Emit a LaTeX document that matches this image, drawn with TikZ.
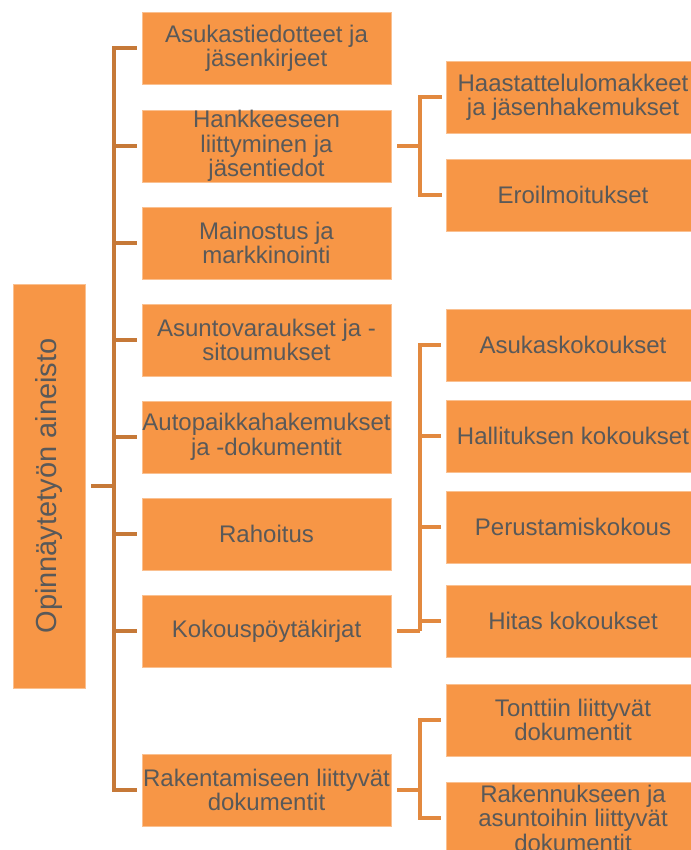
\documentclass[tikz,border=0pt]{standalone}
\usepackage{fontspec}
\setmainfont{Liberation Sans}
\usetikzlibrary{positioning}
\definecolor{cnaranja}{HTML}{F79646}
\definecolor{ctexto}{HTML}{595959}
\definecolor{crama}{HTML}{C67938}
\definecolor{cramab}{HTML}{E2893F}
\tikzset{
  caja/.style={fill=cnaranja,draw=cnaranja!60!white,line width=0.7pt,align=center,
               text=ctexto,inner sep=0pt,font=\fontsize{24}{24.5}\selectfont},
  caja2/.style={caja,minimum width=249pt,minimum height=72pt},
  caja3/.style={caja,minimum width=254pt,minimum height=72pt},
  raiz/.style={caja,minimum width=72pt,minimum height=404pt,font=\fontsize{29}{30}\selectfont},
  rama/.style={draw=crama,line width=4pt},
  ramab/.style={draw=cramab,line width=4pt},
}
\begin{document}
\begin{tikzpicture}[x=1pt,y=-1pt]
\useasboundingbox (0,0) rectangle (690,850);

% ---------------- raiz ----------------
\node[raiz] (r) at (49,486) {\rotatebox{90}{Opinnäytetyön aineisto}};

% ---------------- segundo nivel ----------------
\node[caja2] (b1) at (266.5,48.5) {Asukastiedotteet ja\\jäsenkirjeet};
\node[caja2] (b2) at (266.5,146)  {Hankkeeseen\\liittyminen ja\\jäsentiedot};
\node[caja2] (b3) at (266.5,243)  {Mainostus ja\\markkinointi};
\node[caja2] (b4) at (266.5,340)  {Asuntovaraukset ja -\\sitoumukset};
\node[caja2] (b5) at (266.5,437)  {Autopaikkahakemukset\\ja -dokumentit};
\node[caja2] (b6) at (266.5,534)  {Rahoitus};
\node[caja2] (b7) at (266.5,631)  {Kokouspöytäkirjat};
\node[caja2] (b8) at (266.5,790)  {Rakentamiseen liittyvät\\dokumentit};

% ---------------- tercer nivel ----------------
\node[caja3] (c1) at (573,97.5) {Haastattelulomakkeet\\ja jäsenhakemukset};
\node[caja3] (c2) at (573,195)  {Eroilmoitukset};
\node[caja3] (c3) at (573,345)  {Asukaskokoukset};
\node[caja3] (c4) at (573,436)  {Hallituksen kokoukset};
\node[caja3] (c5) at (573,527)  {Perustamiskokous};
\node[caja3] (c6) at (573,621)  {Hitas kokoukset};
\node[caja3] (c7) at (573,720)  {Tonttiin liittyvät\\dokumentit};
\node[caja3] (c8) at (573,818)  {Rakennukseen ja\\asuntoihin liittyvät\\dokumentit};

% ---------------- ramas ----------------
\coordinate (t0) at (114,486);
\draw[rama] ([xshift=6pt]r.east) -- (t0);
\foreach \n in {b1,b2,b3,b4,b5,b6,b7,b8}
  \draw[rama] (t0) |- ([xshift=-5pt]\n.west);

\coordinate (t2) at (420,146);
\draw[ramab] ([xshift=6pt]b2.east) -- (t2);
\foreach \n in {c1,c2}
  \draw[ramab] (t2) |- ([xshift=-4pt]\n.west);

\coordinate (t7) at (420,631);
\draw[ramab] ([xshift=6pt]b7.east) -- (t7);
\foreach \n in {c3,c4,c5,c6}
  \draw[ramab] (t7) |- ([xshift=-5pt]\n.west);

\coordinate (t8) at (420,790);
\draw[ramab] ([xshift=6pt]b8.east) -- (t8);
\foreach \n in {c7,c8}
  \draw[ramab] (t8) |- ([xshift=-5pt]\n.west);

\end{tikzpicture}
\end{document}
